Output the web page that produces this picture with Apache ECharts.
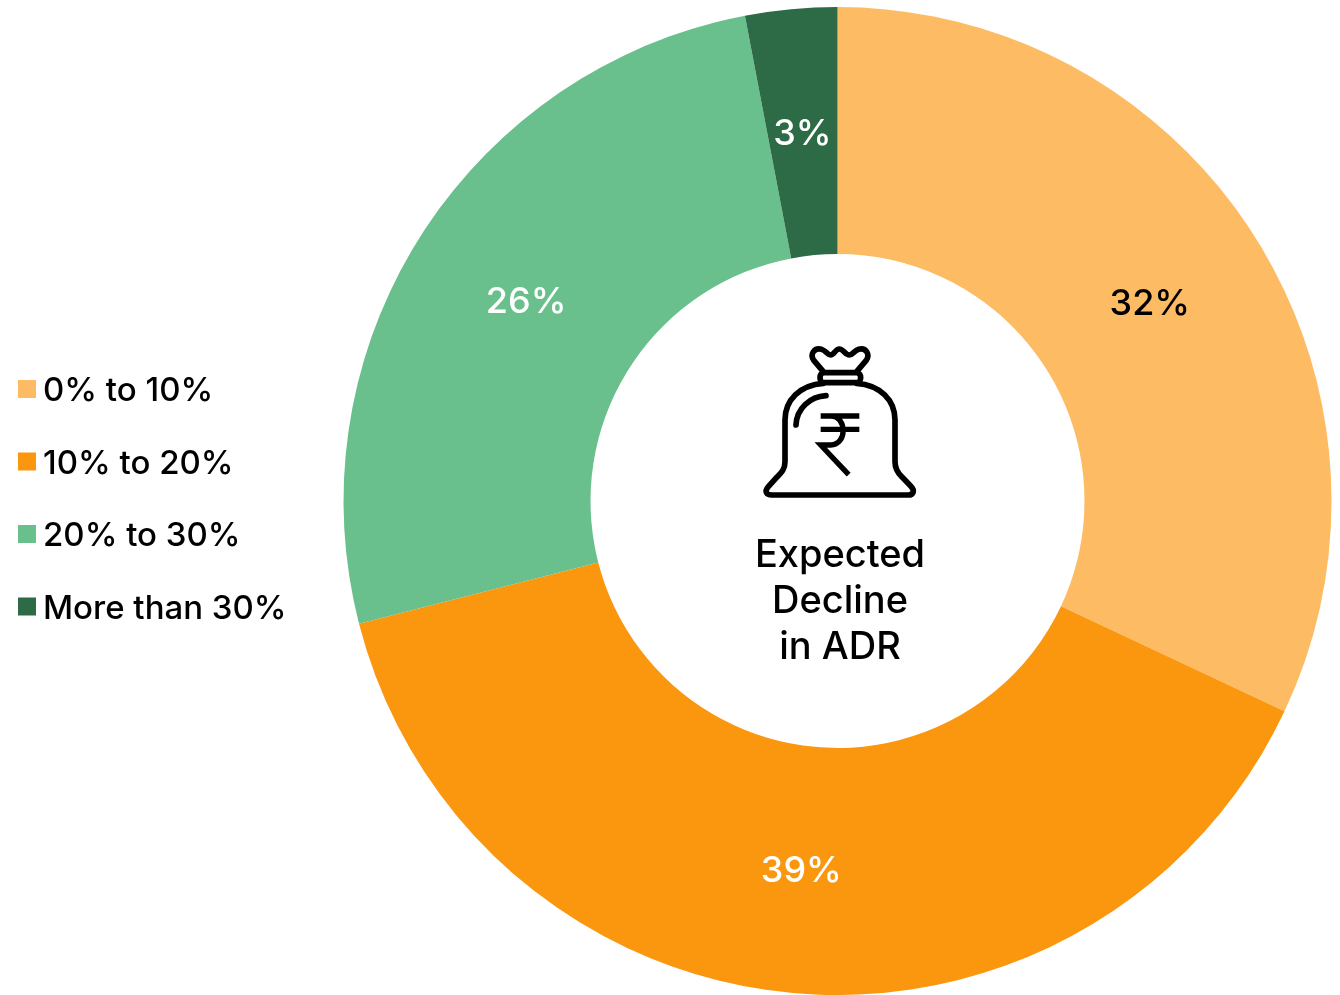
<!DOCTYPE html>
<html>
<head>
<meta charset="utf-8">
<style>
  html, body { margin: 0; padding: 0; background: #fff; }
  #chart { width: 1340px; height: 995px; }
</style>
<script src="https://cdn.jsdelivr.net/npm/echarts@6/dist/echarts.min.js"></script>
</head>
<body>
<div id="chart"></div>
<script>
const categories = ['0% to 10%', '10% to 20%', '20% to 30%', 'More than 30%'];
const shares = [32, 39, 26, 3];
const sliceColors = ['#FDBB63', '#FB960F', '#69C08C', '#2D6A46'];
const labelColors = ['#000000', '#ffffff', '#ffffff', '#ffffff'];
const labelNudges = [[-3, 3], [-1, -2], [4, 1], [0, 5]];
const centerLines = ['Expected', 'Decline', 'in ADR'];

const FONT = 'Inter';

// Money bag with a rupee sign, outlined on a 600x540 grid
const bagOutline = 'M250 125 L222 92 C208 74 222 52 245 58 C258 62 262 75 272 75 C282 75 286 57 298 57 C310 57 316 75 328 75 C338 75 342 62 356 58 C378 52 392 74 378 92 L350 125 ' +
  'M252 128 L350 128 C366 128 366 158 350 158 L252 158 C236 158 236 128 252 128 Z ' +
  'M250 160 C180 165 135 210 135 270 L135 395 C135 420 122 430 110 442 L85 470 C72 485 80 495 95 495 L505 495 C520 495 526 482 512 468 L487 442 C472 428 465 415 465 395 L465 270 C465 210 420 165 350 160 ' +
  'M258 197 C210 200 170 235 168 285';
const rupeeSign = 'M242 258 L358 258 M242 298 L358 298 M272 258 C322 258 322 345 272 345 L242 345 L326 434';

const chart = echarts.init(document.getElementById('chart'), null, { renderer: 'canvas' });
chart.setOption({
  animation: false,
  backgroundColor: '#ffffff',
  legend: {
    orient: 'vertical',
    left: 18,
    top: 370,
    padding: 0,
    itemWidth: 18,
    itemHeight: 18,
    itemGap: 34.5,
    selectedMode: false,
    icon: 'rect',
    formatter: '{t|{name}}',
    textStyle: {
      fontFamily: FONT,
      fontSize: 33,
      fontWeight: 500,
      color: '#000000',
      rich: {
        t: {
          fontFamily: FONT,
          fontSize: 33,
          fontWeight: 500,
          color: '#000000',
          lineHeight: 33,
          padding: [5, 0, 0, 2]
        }
      }
    },
    data: categories
  },
  series: [{
    type: 'pie',
    center: [837.5, 501],
    radius: [247, 494],
    startAngle: 90,
    clockwise: true,
    silent: true,
    avoidLabelOverlap: false,
    labelLine: { show: false },
    label: {
      position: 'inside',
      formatter: '{c}%',
      fontFamily: FONT,
      fontSize: 36,
      fontWeight: 500
    },
    data: categories.map((name, i) => ({
      name,
      value: shares[i],
      itemStyle: { color: sliceColors[i] },
      label: { color: labelColors[i], offset: labelNudges[i] }
    }))
  }, {
    // Icon in the middle of the ring
    type: 'custom',
    coordinateSystem: 'none',
    silent: true,
    data: [0],
    renderItem: () => ({
      type: 'group',
      x: 740,
      y: 330,
      scaleX: 1 / 3,
      scaleY: 1 / 3,
      children: [
        {
          type: 'path',
          shape: { pathData: bagOutline },
          style: { fill: 'none', stroke: '#000', lineWidth: 17, lineCap: 'round', lineJoin: 'round' }
        },
        {
          type: 'path',
          shape: { pathData: rupeeSign },
          style: { fill: 'none', stroke: '#000', lineWidth: 16, lineCap: 'butt', lineJoin: 'miter' }
        }
      ]
    })
  }],
  graphic: centerLines.map((line, i) => ({
    type: 'text',
    x: 840,
    y: 556 + i * 45.7,
    style: {
      text: line,
      fontFamily: FONT,
      fontSize: 38,
      fontWeight: 500,
      fill: '#000',
      align: 'center',
      verticalAlign: 'middle'
    }
  }))
});
</script>
</body>
</html>
